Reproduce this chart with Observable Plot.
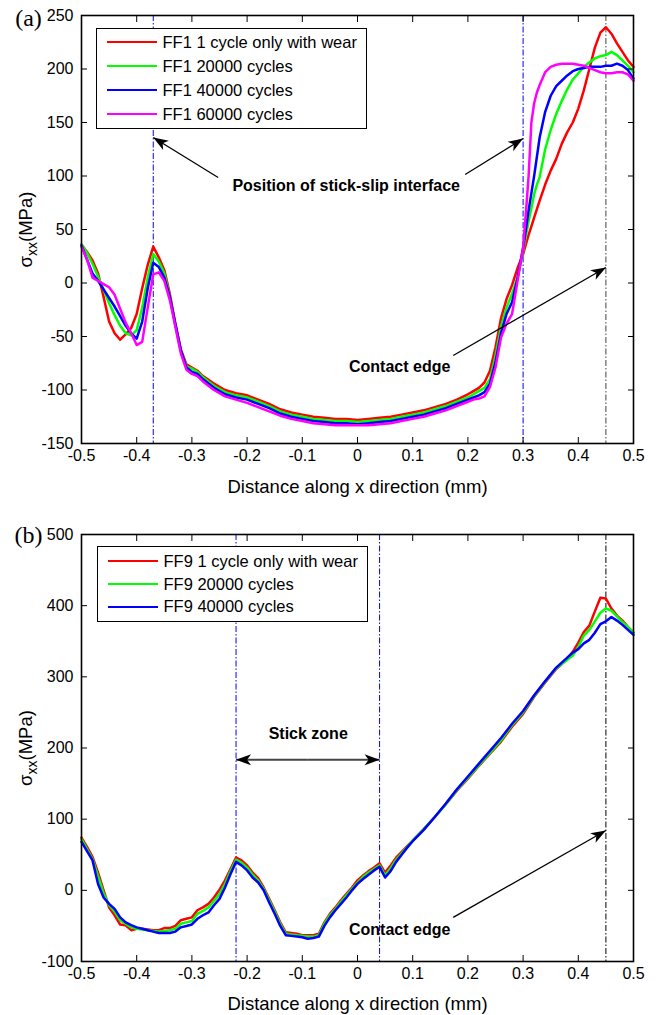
<!DOCTYPE html>
<html><head><meta charset="utf-8">
<script src="https://cdn.jsdelivr.net/npm/d3@7"></script>
<script src="https://cdn.jsdelivr.net/npm/@observablehq/plot@0.6"></script>
<style>
body{margin:0;background:#fff;font-family:"Liberation Sans",Arial,sans-serif;}
.panel{position:relative;width:657px;}
.panel svg{display:block;}
.legend{position:absolute;background:#fff;border:1.5px solid #000;box-sizing:border-box;font-size:16.5px;color:#000;}
.legend .row{position:absolute;left:0;height:24px;display:flex;align-items:center;white-space:nowrap;}
.legend .sw{display:inline-block;width:50px;height:0;border-top:2.5px solid;margin-left:9.5px;margin-right:6px;}
</style></head><body>
<div id="a" class="panel"></div>
<div id="b" class="panel"></div>
<script>
// ---------- data: panel (a) ----------
const namesA = ["FF1 1 cycle only with wear","FF1 20000 cycles","FF1 40000 cycles","FF1 60000 cycles"];
const colorsA = ["#ff0000","#00ff00","#0000ff","#ff00ff"];
const xA = [-0.5,-0.49,-0.48,-0.47,-0.46,-0.45,-0.44,-0.43,-0.42,-0.41,-0.40,-0.39,-0.38,-0.37,-0.36,-0.35,-0.34,-0.33,-0.32,-0.31,-0.30,-0.29,-0.28,
  -0.26,-0.24,-0.22,-0.20,-0.18,-0.16,-0.14,-0.12,-0.10,-0.08,-0.06,-0.04,-0.02,0,0.02,0.04,0.06,0.08,0.10,0.12,0.14,0.16,0.18,0.20,
  0.21,0.22,0.23,0.24,0.25,0.26,0.27,0.28,0.29,0.30,0.305,0.31,0.315,0.32,0.325,0.33,
  0.34,0.35,0.36,0.37,0.38,0.39,0.40,0.41,0.42,0.43,0.44,0.45,0.46,0.47,0.48,0.49,0.50];
const redA = [36,29,21,9,-13,-36,-47,-53,-48,-42,-29,-5,17,34,24,12,-10,-38,-62,-76,-79,-82,-87,
  -94,-100,-103,-105,-109,-113,-118,-121,-123,-125,-126,-127,-127,-128,-127,-126,-125,-123,-121,-119,-116,-113,-109,-104,
  -101,-98,-93,-82,-60,-33,-15,-2,14,27,36,45,53,61,69,77,
  92,105,116,130,141,150,163,180,200,220,234,239,233,224,216,208,202];
const greenA = [36,28,18,6,-6,-19,-30,-40,-47,-49,-44,-23,5,27,20,9,-13,-40,-64,-78,-80,-83,-88,
  -96,-102,-105,-107,-111,-115,-120,-123,-125,-127,-128,-129,-129,-130,-129,-128,-127,-125,-123,-121,-118,-115,-111,-107,
  -104,-101,-98,-90,-68,-41,-23,-10,5,30,44,58,70,83,92,99,
  125,143,158,170,181,190,196,202,206,210,212,213,216,213,208,203,197];
const blueA = [35,22,9,2,-6,-14,-22,-31,-40,-47,-52,-36,-5,19,15,5,-13,-38,-63,-79,-83,-85,-90,
  -98,-104,-107,-109,-113,-117,-122,-125,-127,-129,-130,-131,-131,-132,-131,-130,-129,-127,-125,-123,-120,-117,-113,-109,
  -107,-105,-102,-94,-74,-47,-29,-18,5,33,50,68,84,100,118,136,
  160,175,184,189,194,198,200,201,202,202,202,203,203,205,203,199,191];
const magentaA = [34,22,5,2,-1,-4,-11,-24,-37,-47,-58,-55,-23,8,10,2,-16,-41,-66,-81,-85,-87,-92,
  -100,-106,-109,-112,-116,-120,-124,-127,-129,-131,-132,-133,-133,-133,-133,-132,-131,-129,-127,-125,-122,-119,-115,-111,
  -109,-108,-106,-97,-79,-51,-38,-29,2,33,65,100,150,168,178,185,
  197,202,204,205,205,205,204,203,201,199,197,196,196,197,197,195,189];
const yTicksA = [-150,-100,-50,0,50,100,150,200,250];
const linesBlueA = [-0.37, 0.30];
const linesBlackA = [0.45];
const textA = [
  {x:-0.0205, y:90.7, text:"Position of stick-slip interface"},
  {x:0.0764, y:-78.5, text:"Contact edge"}
];
const arrowsA = [
  {x1:-0.2524, y1:98.6, x2:-0.37, y2:136},
  {x1:0.195, y1:101.4, x2:0.30, y2:135},
  {x1:0.1734, y1:-67.8, x2:0.45, y2:14.5}
];

// ---------- data: panel (b) ----------
const namesB = ["FF9 1 cycle only with wear","FF9 20000 cycles","FF9 40000 cycles"];
const colorsB = ["#ff0000","#00ff00","#0000ff"];
const xB = [-0.5,-0.49,-0.48,-0.47,-0.46,-0.45,-0.44,-0.43,-0.42,-0.41,-0.40,-0.39,-0.38,-0.37,-0.36,-0.35,-0.34,-0.33,-0.32,-0.31,
  -0.30,-0.29,-0.28,-0.27,-0.26,-0.25,-0.24,-0.23,-0.22,-0.21,-0.20,-0.19,-0.18,-0.17,-0.16,-0.15,-0.14,-0.13,-0.12,-0.11,
  -0.10,-0.09,-0.08,-0.07,-0.06,-0.05,-0.04,-0.03,-0.02,-0.01,0,0.01,0.02,0.03,0.04,0.05,0.06,0.07,0.08,0.09,0.10,
  0.12,0.14,0.16,0.18,0.20,0.22,0.24,0.26,0.28,0.30,0.32,0.34,0.36,
  0.37,0.38,0.39,0.40,0.41,0.42,0.43,0.44,0.45,0.46,0.47,0.48,0.49,0.50];
const redB = [74,61,47,25,0,-24,-35,-48,-49,-56,-54,-54,-55,-56,-56,-53,-53,-50,-42,-40,
  -38,-28,-24,-19,-10,1,14,30,46,42,35,25,17,4,-12,-28,-45,-59,-60,-61,
  -63,-63,-63,-61,-45,-33,-24,-14,-5,4,14,21,27,32,38,25,35,46,54,62,70,
  86,103,121,140,157,175,192,209,230,248,272,292,311,
  318,326,335,348,363,372,392,411,410,396,386,379,370,362];
const greenB = [72,58,44,20,-4,-21,-30,-42,-47,-52,-54,-55,-56,-57,-58,-57,-56,-54,-47,-45,
  -43,-33,-29,-24,-15,-5,9,27,43,39,32,22,14,2,-14,-30,-47,-61,-62,-63,
  -64,-65,-65,-63,-47,-35,-26,-16,-7,2,11,19,25,30,35,21,31,43,52,61,70,
  86,103,121,141,158,176,193,211,232,250,273,293,312,
  318,324,330,342,358,366,378,390,396,393,385,377,370,362];
const blueB = [68,55,42,9,-10,-19,-26,-38,-45,-49,-52,-54,-56,-58,-60,-60,-60,-58,-52,-50,
  -48,-40,-35,-31,-21,-12,4,23,40,35,28,18,11,0,-17,-33,-50,-63,-64,-65,
  -66,-68,-67,-65,-50,-38,-28,-19,-10,0,9,16,22,28,33,18,27,40,50,60,69,
  85,103,122,142,160,178,196,214,234,252,274,294,313,
  320,327,334,339,347,352,362,374,378,384,379,373,366,359];
const yTicksB = [-100,0,100,200,300,400,500];
const linesBlueB = [-0.22, 0.04];
const linesBlackB = [0.45];
const textB = [
  {x:-0.0893, y:220, text:"Stick zone"},
  {x:0.0764, y:-55, text:"Contact edge"}
];
const arrowsB = [
  {x1:0.1734, y1:-38, x2:0.45, y2:84}
];
const stickArrowB = [
  {x1:-0.09, y1:183.4, x2:-0.22, y2:183.4},
  {x1:-0.09, y1:183.4, x2:0.04, y2:183.4}
];

const xTicks = [-0.5,-0.4,-0.3,-0.2,-0.1,0,0.1,0.2,0.3,0.4,0.5];
const FONT = '"Liberation Sans", Arial, sans-serif';
const YLABEL = "σxx(MPa)";
const XLABEL = "Distance along x direction (mm)";

function headMarker(color, context) {
  const ns = "http://www.w3.org/2000/svg";
  const doc = (context && context.document) || document;
  const m = doc.createElementNS(ns, "marker");
  m.setAttribute("viewBox", "-16 -7 17 14");
  m.setAttribute("markerWidth", "17");
  m.setAttribute("markerHeight", "14");
  m.setAttribute("markerUnits", "userSpaceOnUse");
  m.setAttribute("refX", "0");
  m.setAttribute("refY", "0");
  m.setAttribute("orient", "auto");
  const p = doc.createElementNS(ns, "path");
  p.setAttribute("d", "M0,0L-15,-5.5L-11,0L-15,5.5Z");
  p.setAttribute("fill", "#000");
  p.setAttribute("stroke", "none");
  m.appendChild(p);
  return m;
}

function fmtX(d) { return String(Math.round(d * 10) / 10); }

function makePanel(cfg) {
  const data = [];
  cfg.series.forEach((vals, k) => cfg.xs.forEach((x, i) => data.push({x, y: vals[i], s: cfg.names[k]})));
  const svg = Plot.plot({
    width: 657, height: cfg.height,
    marginLeft: 81, marginRight: 24, marginTop: cfg.mt, marginBottom: cfg.mb,
    style: {fontFamily: FONT, fontSize: "16px", color: "#000", background: "transparent", overflow: "visible"},
    x: {domain: [-0.5, 0.5]},
    y: {domain: cfg.yDomain},
    color: {domain: cfg.names, range: cfg.colors},
    marks: [
      Plot.ruleX(cfg.blueLines, {stroke: "#0000ff", strokeWidth: 1, strokeDasharray: "6,2,1.5,2"}),
      Plot.ruleX(cfg.blackLines, {stroke: cfg.blackColor, strokeWidth: 1, strokeDasharray: "6,2,1.5,2"}),
      Plot.line(data, {x: "x", y: "y", z: "s", stroke: "s", strokeWidth: 2.5, strokeLinejoin: "round"}),
      Plot.link(cfg.arrows, {x1: "x1", y1: "y1", x2: "x2", y2: "y2", stroke: "#000", strokeWidth: 1.3, markerEnd: headMarker}),
      ...(cfg.extraArrows ? [Plot.link(cfg.extraArrows, {x1: "x1", y1: "y1", x2: "x2", y2: "y2", stroke: "#444", strokeWidth: 2, markerEnd: headMarker})] : []),
      Plot.text(cfg.texts, {x: "x", y: "y", text: "text", fontWeight: "bold", fontSize: 16, fill: "#000"}),
      Plot.axisX({anchor: "bottom", ticks: xTicks, tickSize: -6, tickPadding: 12, tickFormat: fmtX, label: null}),
      Plot.axisX({anchor: "top", ticks: xTicks, tickSize: -6, tickFormat: () => "", label: null}),
      Plot.axisY({anchor: "left", ticks: cfg.yTicks, tickSize: -6, tickPadding: 14, tickFormat: d => String(d), label: null}),
      Plot.axisY({anchor: "right", ticks: cfg.yTicks, tickSize: -6, tickFormat: () => "", label: null}),
      Plot.frame({stroke: "#000", strokeWidth: 1.6}),
      Plot.text([XLABEL], {frameAnchor: "bottom", dy: cfg.xlabDy, lineAnchor: "middle", fontSize: 18.5, fill: "#000"}),
      Plot.text([YLABEL], {frameAnchor: "left", dx: -55, rotate: -90, lineAnchor: "middle", textAnchor: "middle", fontSize: 18.5, fill: "#000"}),
      Plot.text([cfg.tag], {frameAnchor: "top-left", dx: -53, dy: cfg.tagDy, lineAnchor: "middle", textAnchor: "middle", fontSize: 24, fontFamily: '"Liberation Serif", "Times New Roman", serif', fill: "#000"})
    ]
  });
  // subscript for sigma_xx
  const ns = "http://www.w3.org/2000/svg";
  svg.querySelectorAll("text").forEach(t => {
    if (t.textContent === YLABEL) {
      t.textContent = "";
      const a = document.createElementNS(ns, "tspan"); a.textContent = "σ";
      const b = document.createElementNS(ns, "tspan"); b.textContent = "xx"; b.setAttribute("dy", "5"); b.setAttribute("font-size", "14");
      const c = document.createElementNS(ns, "tspan"); c.textContent = "(MPa)"; c.setAttribute("dy", "-5");
      t.append(a, b, c);
    }
  });
  const host = document.getElementById(cfg.id);
  host.style.height = cfg.height + "px";
  host.appendChild(svg);
  // legend
  const lg = document.createElement("div");
  lg.className = "legend";
  Object.assign(lg.style, {left: cfg.legend.left + "px", top: cfg.legend.top + "px", width: cfg.legend.width + "px", height: cfg.legend.height + "px"});
  cfg.names.forEach((n, k) => {
    const row = document.createElement("div");
    row.className = "row";
    row.style.top = (cfg.legend.rows[k] - 12 - 1.5) + "px";
    const sw = document.createElement("span");
    sw.className = "sw";
    sw.style.borderTopColor = cfg.colors[k];
    const tx = document.createElement("span");
    tx.textContent = n;
    row.append(sw, tx);
    lg.appendChild(row);
  });
  host.appendChild(lg);
}

makePanel({
  id: "a", height: 500, mt: 15, mb: 57, yDomain: [-150, 250], yTicks: yTicksA,
  xs: xA, series: [redA, greenA, blueA, magentaA], names: namesA, colors: colorsA,
  blueLines: linesBlueA, blackLines: linesBlackA, blackColor: "#444",
  texts: textA, arrows: arrowsA, xlabDy: 44, tag: "(a)", tagDy: 3,
  legend: {left: 96, top: 28, width: 271, height: 101, rows: [14.5, 38.5, 62.5, 86.5]}
});
makePanel({
  id: "b", height: 515, mt: 34, mb: 54, yDomain: [-100, 500], yTicks: yTicksB,
  xs: xB, series: [redB, greenB, blueB], names: namesB, colors: colorsB,
  blueLines: linesBlueB, blackLines: linesBlackB, blackColor: "#000",
  texts: textB, arrows: arrowsB, extraArrows: stickArrowB, xlabDy: 43, tag: "(b)", tagDy: 1,
  legend: {left: 97, top: 46, width: 271, height: 76, rows: [15.5, 38.5, 61]}
});
</script>
</body></html>
